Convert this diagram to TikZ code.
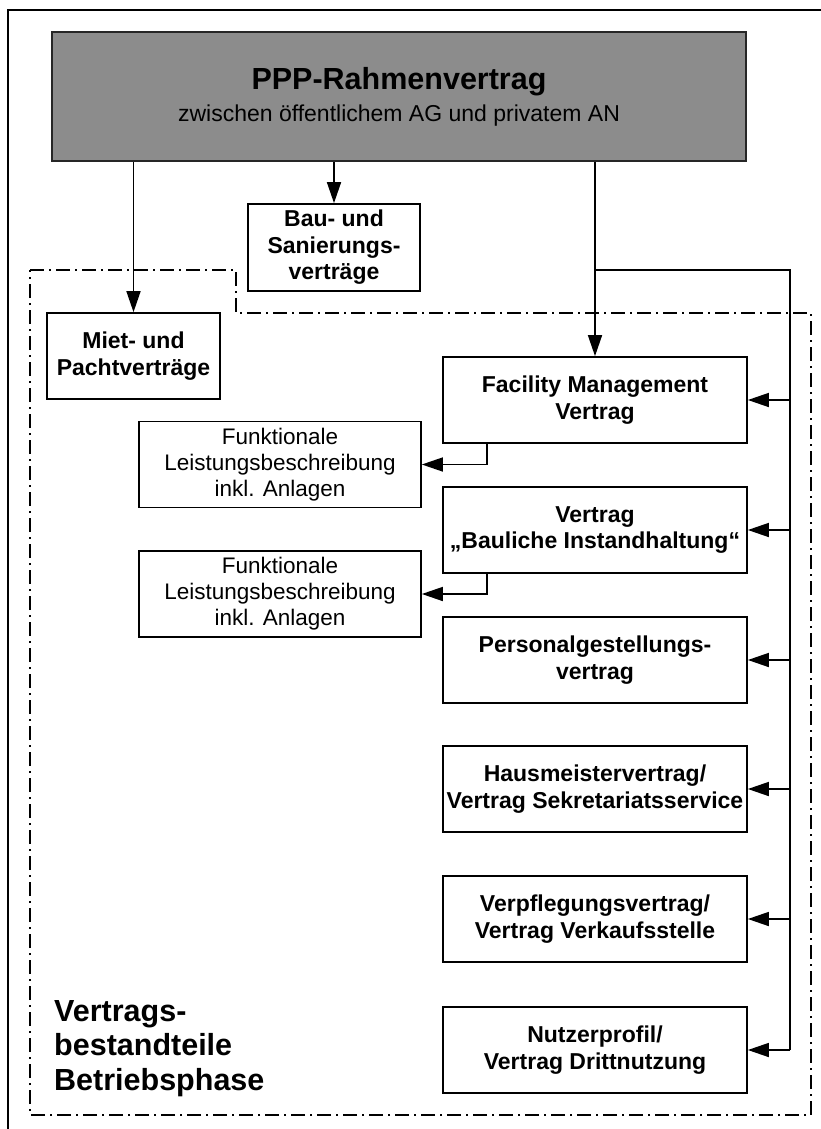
\documentclass[tikz,border=0pt]{standalone}
\usepackage{fontspec}
\setmainfont{Liberation Sans}
\usetikzlibrary{arrows.meta}
\definecolor{headgray}{HTML}{8C8C8C}
\begin{document}
\begin{tikzpicture}[x=1pt,y=-1pt,
  box/.style={draw=black, line width=1.7pt, fill=white, inner sep=0pt,
    align=center, minimum height=86pt},
  bfbox/.style={box, minimum width=304pt, font=\fontsize{23}{26.5}\selectfont\bfseries},
  rmbox/.style={box, minimum width=282pt, font=\fontsize{22.5}{26}\selectfont},
  conn/.style={line width=1.6pt},
  arr/.style={conn, -{Triangle[length=21pt,width=14pt]}},
  zone/.style={line width=1.5pt, dash pattern=on 14pt off 5pt on 2pt off 5pt},
]
\useasboundingbox (0,0) rectangle (821,1129);
\clip (0,0) rectangle (821,1129);
\fill[white] (0,0) rectangle (821,1129);

% outer frame (only its top and left edges fall inside the page)
\draw[line width=1.9pt] (8,1160) -- (8,10) -- (840,10);

% operating-phase zone
\draw[zone] (30,270) -- (236,270) -- (236,313) -- (811,313) -- (811,1115)
  -- (30,1115) -- cycle;

% framework contract
\node[box, fill=headgray, minimum width=694pt, minimum height=129pt,
  draw=black!85] (top) at (399,96.5)
  {{\fontsize{30.5}{34}\selectfont\bfseries PPP-Rahmenvertrag}\\[8pt]
   {\fontsize{23}{26}\selectfont zwischen öffentlichem AG und privatem AN}};

% contracts outside the operating phase
\node[bfbox, minimum width=172pt, minimum height=87pt] (bau) at (334,247.5)
  {Bau- und\\Sanierungs-\\verträge};
\node[bfbox, minimum width=173pt] (miet) at (133.5,356)
  {Miet- und\\Pachtverträge};

% operating-phase contracts
\node[bfbox] (fm)   at (595,400) {Facility Management\\Vertrag};
\node[bfbox] (bi)   at (595,530) {Vertrag\\„Bauliche Instandhaltung“};
\node[bfbox] (pg)   at (595,660) {Personalgestellungs-\\vertrag};
\node[bfbox] (hm)   at (595,789) {Hausmeistervertrag/\\Vertrag Sekretariatsservice};
\node[bfbox] (vp)   at (595,919) {Verpflegungsvertrag/\\Vertrag Verkaufsstelle};
\node[bfbox] (nu)   at (595,1050) {Nutzerprofil/\\Vertrag Drittnutzung};

\node[rmbox] (flb1) at (280,464.5) {Funktionale\\Leistungsbeschreibung\\inkl. Anlagen};
\node[rmbox] (flb2) at (280,594) {Funktionale\\Leistungsbeschreibung\\inkl. Anlagen};

% zone label (base anchor sits on the last line)
\node[anchor=base west, align=left, inner sep=0pt,
  font=\fontsize{30.5}{34.5}\selectfont\bfseries] (zl) at (54,1090)
  {Vertrags-\\bestandteile\\Betriebsphase};

% connectors from the framework contract
\draw[arr] (top.south -| miet.north) -- (miet.north);
\draw[arr] (top.south -| bau.north) -- (bau.north);
\draw[arr] (top.south -| fm.north) -- (fm.north);

% distribution bus on the right
\coordinate (bj) at (595,270);
\coordinate (bus) at (790,270);
\draw[conn] (bj) -- (bus) -- (bus |- nu.east);
\foreach \n in {fm,bi,pg,hm,vp,nu}
  \draw[arr] (bus |- \n.east) -- (\n.east);

% performance specifications
\coordinate (sx) at (487,0);
\draw[arr] (sx |- fm.south) |- (flb1.east);
\draw[arr] (sx |- bi.south) |- (flb2.east);
\end{tikzpicture}
\end{document}
